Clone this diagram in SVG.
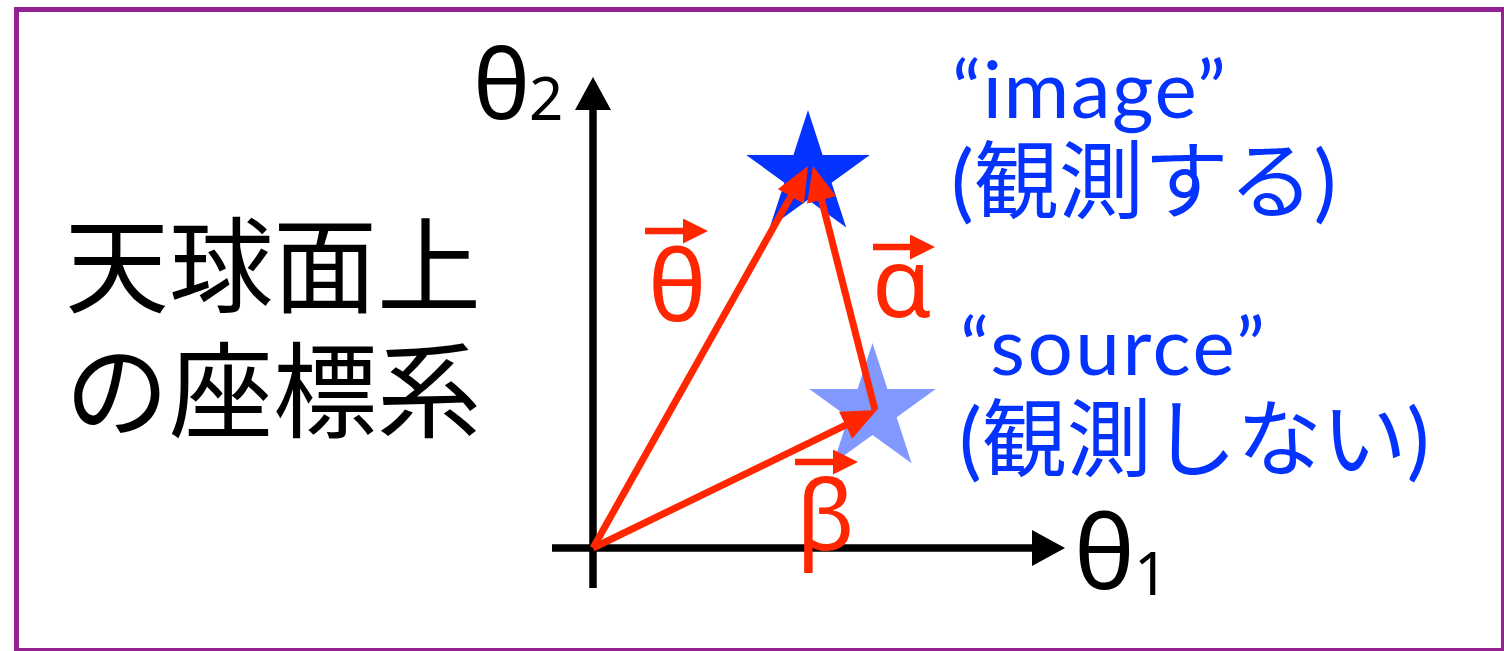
<svg xmlns="http://www.w3.org/2000/svg" xmlns:xlink="http://www.w3.org/1999/xlink" width="1504" height="651" viewBox="0 0 1504 651">
<style>
.cjk{font-family:"Noto Sans CJK JP","Noto Sans CJK SC",sans-serif;}
.blue{font-family:Lato,"Noto Sans CJK JP",sans-serif;fill:#0433FF;}
.greek{font-family:"Noto Sans","DejaVu Sans",sans-serif;}
.red{fill:#FF2600;}
.axis{stroke:#000;stroke-width:7.5;fill:none;}
.vec{stroke:#FF2600;stroke-width:7;fill:none;}
.over{stroke:#FF2600;stroke-width:6.5;fill:none;}
</style>
<defs>
<marker id="axisHead" markerUnits="userSpaceOnUse" viewBox="0 -18 33 36" refX="13" refY="0" markerWidth="33" markerHeight="36" orient="auto">
<path d="M0,-18 L33,0 L0,18 z" fill="#000"/>
</marker>
<marker id="vecHead" markerUnits="userSpaceOnUse" viewBox="0 -15 35 30" refX="15" refY="0" markerWidth="35" markerHeight="30" orient="auto">
<path d="M0,-15 L35,0 L0,15 z" fill="#FF2600"/>
</marker>
<marker id="overHead" markerUnits="userSpaceOnUse" viewBox="0 -12.5 25 25" refX="10" refY="0" markerWidth="25" markerHeight="25" orient="auto">
<path d="M0,-12.5 L25,0 L0,12.5 z" fill="#FF2600"/>
</marker>
<path id="star" d="M0,-65 L14.6,-20.09 L61.82,-20.09 L23.62,7.67 L38.21,52.59 L0,24.83 L-38.21,52.59 L-23.62,7.67 L-61.82,-20.09 L-14.6,-20.09 Z"/>
</defs>
<rect id="frame" x="16.5" y="9.5" width="1487" height="641" fill="#fff" stroke="#942192" stroke-width="5"/>
<g id="title" class="cjk" font-size="104" fill="#000">
<text x="65" y="305"><tspan x="65" y="305">天球面上</tspan><tspan x="65" y="430">の座標系</tspan></text>
</g>
<g id="axes">
<line class="axis" x1="593" y1="588" x2="593" y2="97" marker-end="url(#axisHead)"/>
<line class="axis" x1="552" y1="548" x2="1045" y2="548" marker-end="url(#axisHead)"/>
<text class="greek" x="473" y="119" font-size="96" fill="#000">θ</text>
<text class="greek" x="529" y="120" font-size="60" fill="#000">2</text>
<text class="greek" x="1074" y="589" font-size="102" fill="#000">θ</text>
<text class="greek" x="1134" y="595" font-size="60" fill="#000">1</text>
</g>
<g id="star-image">
<use xlink:href="#star" transform="translate(808,175)" fill="#0433FF"/>
</g>
<g id="star-source">
<use xlink:href="#star" transform="translate(872.5,409.5) scale(1.023)" fill="#0433FF" fill-opacity="0.5"/>
</g>
<g id="label-image" class="blue">
<text x="952" y="118" font-size="80" letter-spacing="1.5">“image”</text>
<text x="951" y="212" font-size="85">(観測する)</text>
</g>
<g id="label-source" class="blue">
<text x="960" y="375" font-size="80" letter-spacing="2.5">“source”</text>
<text x="959" y="470" font-size="85">(観測しない)</text>
</g>
<g id="connectors">
<line id="vec-theta" class="vec" x1="593" y1="548" x2="798.2" y2="183.4" marker-end="url(#vecHead)"/>
<line id="vec-alpha" class="vec" x1="875" y1="410" x2="817.9" y2="185.4" marker-end="url(#vecHead)"/>
<line id="vec-beta" class="vec" x1="593" y1="548" x2="859" y2="418.7" marker-end="url(#vecHead)"/>
</g>
<g id="vector-labels">
<g id="label-theta">
<line class="over" x1="645" y1="231" x2="693" y2="231" marker-end="url(#overHead)"/>
<text class="greek red" x="648" y="321" font-size="98">θ</text>
</g>
<g id="label-alpha">
<line class="over" x1="873" y1="247" x2="920" y2="247" marker-end="url(#overHead)"/>
<text class="greek red" x="872" y="317" font-size="96">α</text>
</g>
<g id="label-beta">
<line class="over" x1="795" y1="462" x2="843" y2="462" marker-end="url(#overHead)"/>
<text class="greek red" x="796" y="550" font-size="96">β</text>
</g>
</g>
</svg>
